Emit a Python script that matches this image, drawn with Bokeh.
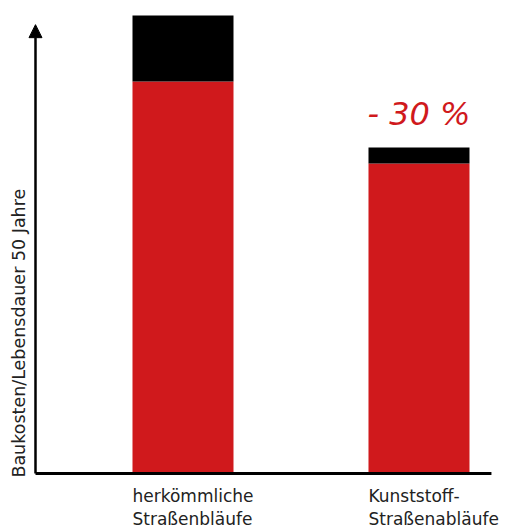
from bokeh.plotting import figure
from bokeh.models import ColumnDataSource, Range1d, Arrow, NormalHead
from bokeh.core.properties import value
from bokeh.embed import file_html
from bokeh.resources import INLINE
import math

# --- data ---
categories = ["herkömmliche\nStraßenbläufe", "Kunststoff-\nStraßenabläufe"]
positions = [1, 2]
red_part = [85.6, 67.7]
black_part = [14.4, 3.5]
reduction_label = "- 30 %"
y_label = "Baukosten/Lebensdauer 50 Jahre"

RED = "#D0191C"
BAR_W = 0.428
FONT = "DejaVu Sans"

p = figure(width=506, height=530, output_backend="svg", toolbar_location=None,
           x_range=Range1d(0.2267, 2.3708), y_range=Range1d(-12.445, 103.275),
           min_border=0, outline_line_color=None)
p.xaxis.visible = False
p.yaxis.visible = False
p.xgrid.visible = False
p.ygrid.visible = False
p.background_fill_color = "white"

src = ColumnDataSource(dict(x=positions, red=red_part, black=black_part,
                            left=[x - BAR_W / 2 for x in positions], cat=categories))
p.vbar_stack(["red", "black"], x="x", width=BAR_W, color=[RED, "black"],
             line_color=None, source=src)

# axes drawn as lines
p.segment(x0=[0.375], y0=[0.0], x1=[2.307], y1=[0.0], line_color="black", line_width=3)
p.add_layout(Arrow(x_start=0.375, y_start=0.0, x_end=0.375, y_end=98.0,
                   line_width=2.5, line_color="black",
                   end=NormalHead(size=13, fill_color="black", line_color="black")))

# category labels
p.text(x="left", y=-2.7, text="cat", source=src, text_font=value(FONT),
       text_font_size="17px", text_align="left", text_baseline="top",
       text_line_height=1.15, text_color="#222222")

# y label
p.text(x=[0.303], y=[-0.9], text=[y_label], angle=math.pi / 2, text_font=value(FONT),
       text_font_size="17.5px", text_align="left", text_baseline="middle",
       text_color="#222222")

# reduction label
p.text(x=[positions[1]], y=[78.6], text=[reduction_label], text_font=value(FONT),
       text_font_size="32px", text_font_style="italic", text_align="center",
       text_baseline="middle", text_color=RED)

open("out.html", "w").write(file_html(p, INLINE))
